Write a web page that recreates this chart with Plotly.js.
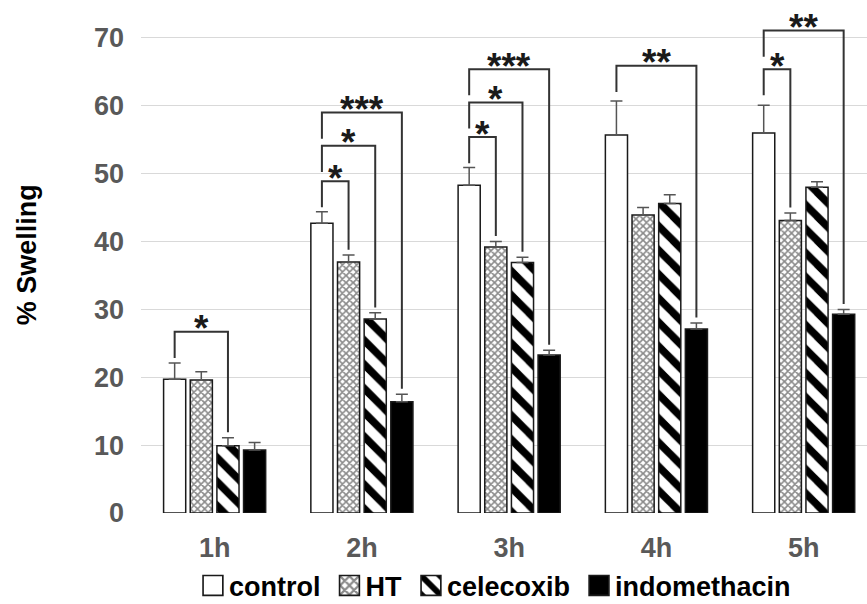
<!DOCTYPE html>
<html>
<head>
<meta charset="utf-8">
<script src="https://cdn.plot.ly/plotly-3.0.1.min.js"></script>
<style>
  html, body { margin: 0; padding: 0; background: #ffffff; }
  #chart { width: 867px; height: 604px; }
</style>
</head>
<body>
<div id="chart"></div>
<script>
// Paw swelling (%) over time, mean + SEM
const timepoints = ['1h', '2h', '3h', '4h', '5h'];
const groupNames = ['control', 'HT', 'celecoxib', 'indomethacin'];

const controlMean = [19.7, 42.7, 48.3, 55.7, 56.0];
const controlErr = [2.4, 1.7, 2.6, 5.0, 4.1];
const htMean = [19.6, 37.0, 39.2, 43.9, 43.1];
const htErr = [1.2, 1.0, 0.8, 1.1, 1.1];
const celecoxibMean = [9.9, 28.6, 36.9, 45.6, 48.0];
const celecoxibErr = [1.2, 0.9, 0.8, 1.3, 0.8];
const indomethacinMean = [9.3, 16.4, 23.3, 27.1, 29.3];
const indomethacinErr = [1.1, 1.1, 0.7, 0.9, 0.7];

// Significance versus control: time index, compared group index, label, bracket height
const sigTime = [0, 1, 1, 1, 2, 2, 2, 3, 4, 4];
const sigGroup = [2, 1, 2, 3, 1, 2, 3, 3, 1, 3];
const sigLabel = ['*', '*', '*', '***', '*', '*', '***', '**', '*', '**'];
const sigTop = [26.7, 48.9, 54.1, 59.0, 55.4, 60.5, 65.4, 65.9, 65.4, 71.1];

const means = [controlMean, htMean, celecoxibMean, indomethacinMean];
const errs = [controlErr, htErr, celecoxibErr, indomethacinErr];

const FONT = 'Liberation Sans, Arial, sans-serif';
const BARGAP = 0.276;
const BARGROUPGAP = 0.17;
const slot = (1 - BARGAP) / groupNames.length;
const barX = (t, g) => t + (g - (groupNames.length - 1) / 2) * slot;

const xIdx = timepoints.map((_, i) => i);

const fills = [
  { color: '#ffffff' },
  { color: '#ffffff', pattern: { shape: 'x', fgcolor: '#8a8a8a', bgcolor: '#ffffff', size: 5, solidity: 0.55 } },
  { color: '#ffffff', pattern: { shape: '\\', fgcolor: '#000000', bgcolor: '#ffffff', size: 17, solidity: 0.45 } },
  { color: '#000000' }
];

const traces = groupNames.map((name, g) => ({
  type: 'bar',
  name: name,
  x: xIdx,
  y: means[g],
  marker: Object.assign({}, fills[g], { line: { color: '#1a1a1a', width: 1.5 } }),
  error_y: {
    type: 'data',
    symmetric: false,
    array: errs[g],
    arrayminus: errs[g].map(() => 0),
    color: '#555555',
    thickness: 1.5,
    width: 6
  },
  hoverinfo: 'skip'
}));

// Bracket lines for significance marks
const LEG = 3.85;
const GAP = 0.8;
const bx = [], by = [];
const annotations = [];
sigTime.forEach((t, k) => {
  const g = sigGroup[k];
  const xl = barX(t, 0);
  const xr = barX(t, g);
  const top = sigTop[k];
  const rightEnd = means[g][t] + errs[g][t] + GAP;
  bx.push(xl, xl, xr, xr, null);
  by.push(top - LEG, top, top, rightEnd, null);
  annotations.push({
    x: (xl + xr) / 2, y: top, xref: 'x', yref: 'y',
    text: sigLabel[k], showarrow: false,
    yanchor: 'middle', xanchor: 'center', yshift: 3,
    font: { family: FONT, size: 37, color: '#1a1a1a', weight: 'bold' }
  });
});

traces.push({
  type: 'scatter', mode: 'lines', x: bx, y: by,
  line: { color: '#333333', width: 2 },
  showlegend: false, hoverinfo: 'skip', connectgaps: false
});

annotations.push({
  text: '% Swelling', textangle: -90, showarrow: false,
  xref: 'paper', yref: 'paper', x: 0, y: 0.524, xanchor: 'center', yanchor: 'middle',
  xshift: -114,
  font: { family: FONT, size: 27, color: '#000000', weight: 'bold' }
});

const layout = {
  width: 867, height: 604,
  margin: { l: 141, r: 0, t: 21, b: 91 },
  paper_bgcolor: '#ffffff', plot_bgcolor: '#ffffff',
  barmode: 'group', bargap: BARGAP, bargroupgap: BARGROUPGAP,
  font: { family: FONT, color: '#595959' },
  xaxis: {
    range: [-0.5, 4.43],
    tickvals: xIdx, ticktext: timepoints,
    showgrid: false, zeroline: false, showline: false, ticks: '',
    ticklabelstandoff: 16,
    tickfont: { family: FONT, size: 27, color: '#595959', weight: 'bold' }
  },
  yaxis: {
    range: [0, 72.5],
    tickvals: [0, 10, 20, 30, 40, 50, 60, 70],
    showgrid: true, gridcolor: '#d9d9d9', gridwidth: 1,
    zeroline: false, showline: false, ticks: '',
    ticklabelstandoff: 16,
    tickfont: { family: FONT, size: 27, color: '#595959', weight: 'bold' }
  },
  showlegend: true,
  legend: {
    orientation: 'h', xref: 'container', yref: 'container',
    x: 0.568, y: 0.03, xanchor: 'center', yanchor: 'middle',
    font: { family: FONT, size: 27, color: '#000000', weight: 'bold' },
    itemclick: false, itemdoubleclick: false
  },
  annotations: annotations
};

Plotly.newPlot('chart', traces, layout, { displayModeBar: false, staticPlot: true }).then(gd => {
  // Larger legend swatches, sitting closer to their labels
  gd.querySelectorAll('.legend .legendpoints path').forEach(p => {
    const tr = p.getAttribute('transform') || '';
    p.setAttribute('transform', tr + ' translate(4,0) scale(1.65)');
    p.style.strokeWidth = '1px';
  });
});
</script>
</body>
</html>
